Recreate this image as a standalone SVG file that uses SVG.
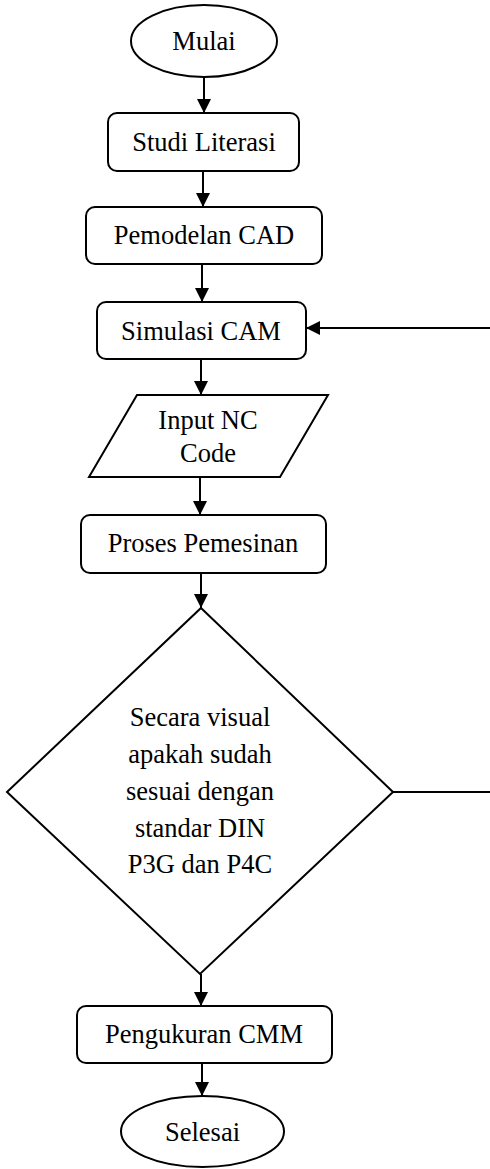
<svg xmlns="http://www.w3.org/2000/svg" width="490" height="1169" viewBox="0 0 490 1169">
<style>
.s{fill:#fff;stroke:#000;stroke-width:2}
.t{font-family:"Liberation Serif","Times New Roman",serif;font-size:26.5px;fill:#000;text-anchor:middle}
.c{fill:none;stroke:#000;stroke-width:2}
</style>
<defs>
<marker id="a" markerUnits="userSpaceOnUse" markerWidth="14" markerHeight="14" refX="14" refY="7" orient="auto" viewBox="0 0 14 14">
<path d="M0,0 L14,7 L0,14 z" fill="#000"/>
</marker>
</defs>
<rect width="490" height="1169" fill="#fff"/>
<g id="connectors">
<line class="c" x1="204" y1="77" x2="204" y2="113" marker-end="url(#a)"/>
<line class="c" x1="203" y1="171" x2="203" y2="207" marker-end="url(#a)"/>
<line class="c" x1="202" y1="264" x2="202" y2="302" marker-end="url(#a)"/>
<line class="c" x1="201" y1="359" x2="201" y2="395" marker-end="url(#a)"/>
<line class="c" x1="200" y1="477" x2="200" y2="515" marker-end="url(#a)"/>
<line class="c" x1="201" y1="573" x2="201" y2="608" marker-end="url(#a)"/>
<line class="c" x1="201" y1="974" x2="201" y2="1006" marker-end="url(#a)"/>
<line class="c" x1="202" y1="1063" x2="202" y2="1096" marker-end="url(#a)"/>
<line class="c" x1="393" y1="792" x2="490" y2="792"/>
<line class="c" x1="490" y1="328" x2="306" y2="328" marker-end="url(#a)"/>
</g>
<g id="mulai">
<ellipse class="s" cx="204" cy="41" rx="73" ry="36"/>
<text class="t" x="204" y="50">Mulai</text>
</g>
<g id="studi">
<rect class="s" x="108" y="113" width="191" height="58" rx="9"/>
<text class="t" x="204" y="151">Studi Literasi</text>
</g>
<g id="pemodelan">
<rect class="s" x="86" y="207" width="236" height="57" rx="9"/>
<text class="t" x="204" y="244">Pemodelan CAD</text>
</g>
<g id="simulasi">
<rect class="s" x="97" y="302" width="209" height="57" rx="9"/>
<text class="t" x="201" y="340">Simulasi CAM</text>
</g>
<g id="input">
<polygon class="s" points="137,395 328,395 280,477 89,477"/>
<text class="t" x="208" y="429">Input NC</text>
<text class="t" x="208" y="462">Code</text>
</g>
<g id="proses">
<rect class="s" x="81" y="515" width="245" height="58" rx="9"/>
<text class="t" x="203" y="552">Proses Pemesinan</text>
</g>
<g id="decision">
<polygon class="s" points="201,608 393,792 200,974 7,792"/>
<text class="t" x="200" y="726">Secara visual</text>
<text class="t" x="200" y="763">apakah sudah</text>
<text class="t" x="200" y="800">sesuai dengan</text>
<text class="t" x="200" y="837">standar DIN</text>
<text class="t" x="200" y="873">P3G dan P4C</text>
</g>
<g id="pengukuran">
<rect class="s" x="77" y="1006" width="255" height="57" rx="9"/>
<text class="t" x="204" y="1043">Pengukuran CMM</text>
</g>
<g id="selesai">
<ellipse class="s" cx="202.5" cy="1131.5" rx="81.5" ry="35.5"/>
<text class="t" x="202.5" y="1141">Selesai</text>
</g>
</svg>
